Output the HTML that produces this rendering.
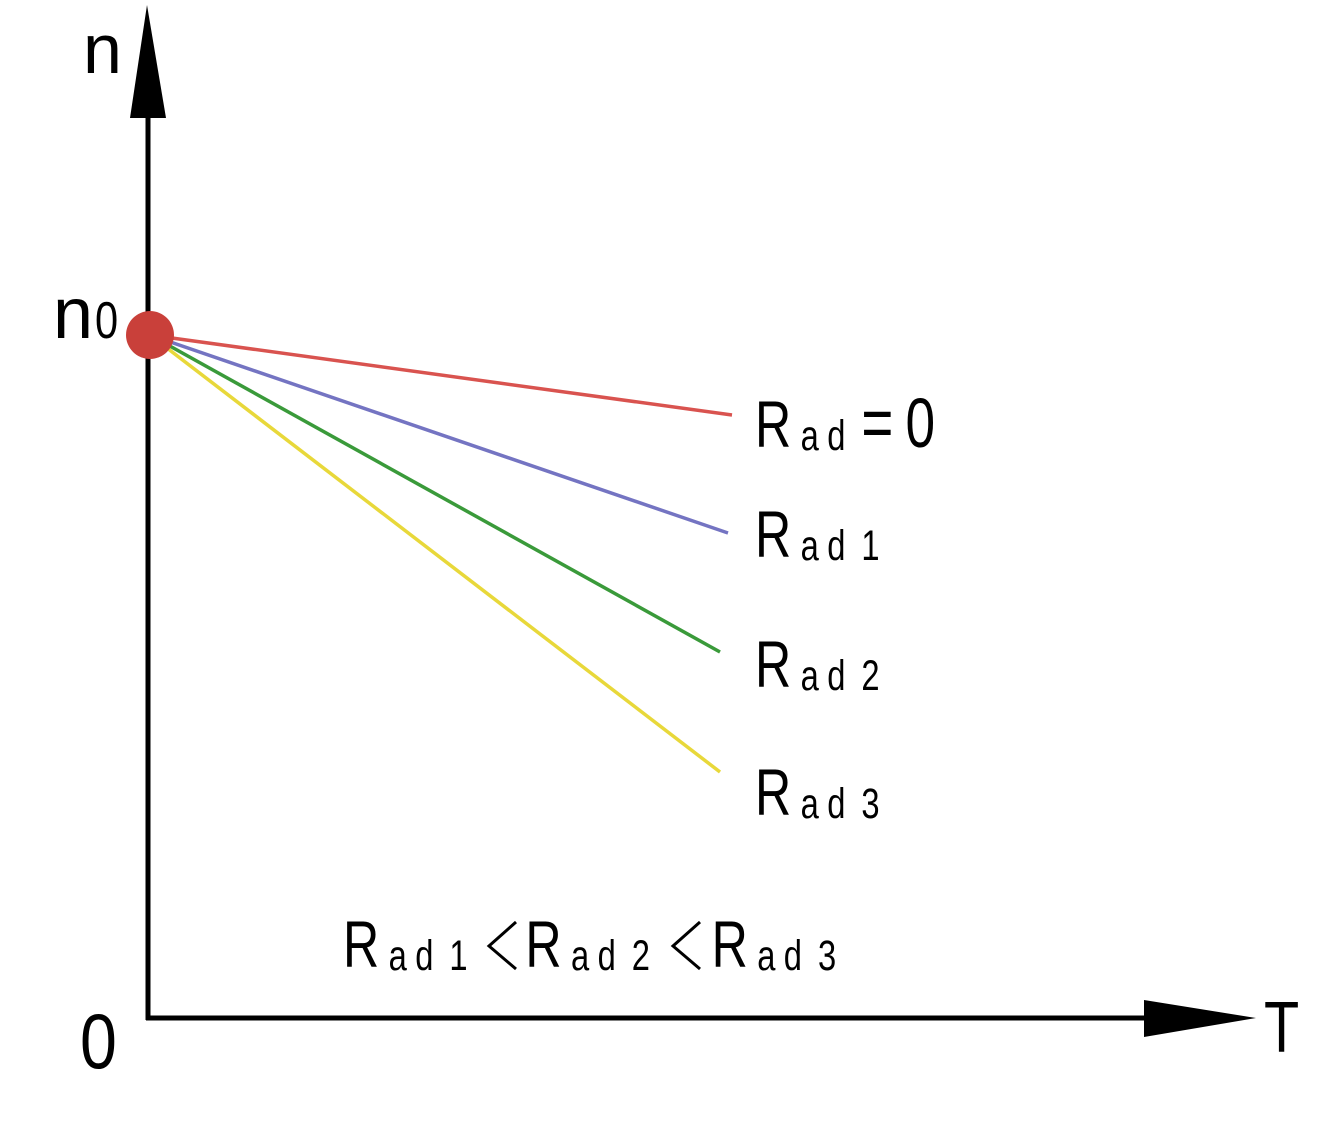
<!DOCTYPE html>
<html><head><meta charset="utf-8"><style>
html,body{margin:0;padding:0;background:#fff;}
svg{display:block;}
text{font-family:"Liberation Sans",sans-serif;fill:#000;}
.big{font-size:66px;}
.sub{font-size:43px;}
</style></head><body>
<svg width="1340" height="1128" viewBox="0 0 1340 1128" xmlns="http://www.w3.org/2000/svg">
<line x1="148" y1="110" x2="148" y2="1020" stroke="#000" stroke-width="5"/>
<polygon points="147,5 130,118 166,118" fill="#000"/>
<line x1="146" y1="1018" x2="1150" y2="1018" stroke="#000" stroke-width="5"/>
<polygon points="1256,1018 1144,1000 1144,1037" fill="#000"/>

<line x1="150" y1="335" x2="732" y2="415" stroke="#d9534f" stroke-width="3.5"/>
<line x1="150" y1="335" x2="728" y2="533" stroke="#7474c2" stroke-width="3.5"/>
<line x1="150" y1="335" x2="720" y2="652" stroke="#3a9a3a" stroke-width="3.5"/>
<line x1="150" y1="335" x2="720" y2="772" stroke="#e8d83a" stroke-width="3.5"/>
<circle cx="150" cy="335" r="24" fill="#c9403a"/>

<text x="83" y="73" style="font-size:70px">n</text>
<text x="53" y="338" style="font-size:72px">n</text>
<text x="95" y="338" style="font-size:52px" transform="translate(95,338) scale(0.8,1) translate(-95,-338)">0</text>
<text x="80" y="1068" style="font-size:78px" transform="translate(80,1068) scale(0.85,1) translate(-80,-1068)">0</text>
<text x="1264" y="1052" style="font-size:72px" transform="translate(1264,1052) scale(0.8,1) translate(-1264,-1052)">T</text>

<g transform="translate(755,447) scale(0.76,1)">
<text x="0" y="0" class="big">R</text>
<text x="60" y="3" class="sub">a</text>
<text x="95" y="3" class="sub">d</text>
<text x="140" y="0" style="font-size:72px">=</text>
<text x="198" y="0" style="font-size:70px">0</text>
</g>
<g transform="translate(755,557) scale(0.76,1)">
<text x="0" y="0" class="big">R</text>
<text x="60" y="3" class="sub">a</text>
<text x="95" y="3" class="sub">d</text>
<text x="140" y="3" class="sub">1</text>
</g>
<g transform="translate(755,687) scale(0.76,1)">
<text x="0" y="0" class="big">R</text>
<text x="60" y="3" class="sub">a</text>
<text x="95" y="3" class="sub">d</text>
<text x="140" y="3" class="sub">2</text>
</g>
<g transform="translate(755,815) scale(0.76,1)">
<text x="0" y="0" class="big">R</text>
<text x="60" y="3" class="sub">a</text>
<text x="95" y="3" class="sub">d</text>
<text x="140" y="3" class="sub">3</text>
</g>

<g transform="translate(343,967) scale(0.76,1)">
<text x="0" y="0" class="big">R</text>
<text x="60" y="3" class="sub">a</text>
<text x="95" y="3" class="sub">d</text>
<text x="140" y="3" class="sub">1</text>
<text x="240" y="0" class="big">R</text>
<text x="300" y="3" class="sub">a</text>
<text x="335" y="3" class="sub">d</text>
<text x="380" y="3" class="sub">2</text>
<text x="485" y="0" class="big">R</text>
<text x="545" y="3" class="sub">a</text>
<text x="580" y="3" class="sub">d</text>
<text x="625" y="3" class="sub">3</text>
</g>
<polyline points="516,922 489,946 516,969" fill="none" stroke="#000" stroke-width="3"/>
<polyline points="700,922 673,946 700,969" fill="none" stroke="#000" stroke-width="3"/>
</svg>
</body></html>
